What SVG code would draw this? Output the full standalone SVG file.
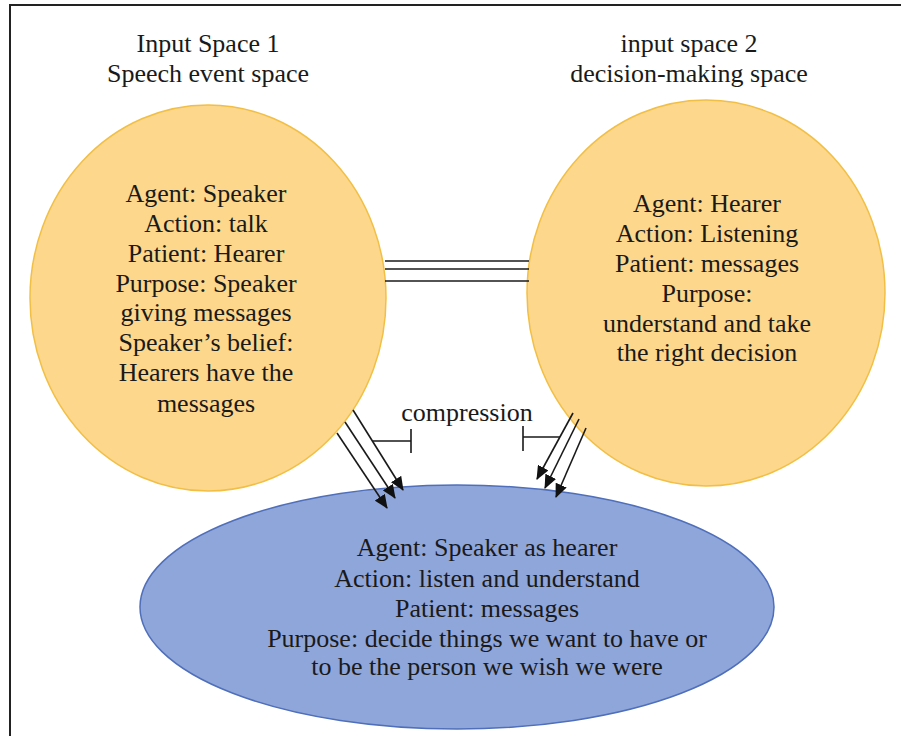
<svg xmlns="http://www.w3.org/2000/svg" width="901" height="736" viewBox="0 0 901 736">
  <defs>
    <style>
      text { font-size: 26px; fill: #1a1a1a; text-anchor: middle; }
      .space { fill: #FCD78C; stroke: #F2BF45; stroke-width: 1.5; }
      .blend { fill: #8FA6DA; stroke: #4F6FBA; stroke-width: 1.5; }
      .link { stroke: #1a1a1a; stroke-width: 1.6; fill: none; }
      .arrow { stroke: #1a1a1a; stroke-width: 1.6; fill: none; marker-end: url(#head); }
    </style>
    <marker id="head" viewBox="0 0 14 12" refX="13" refY="6" markerWidth="14" markerHeight="12" markerUnits="userSpaceOnUse" orient="auto">
      <path d="M0,0 L14,6 L0,12 z" fill="#111"/>
    </marker>
  </defs>

  <rect width="901" height="736" fill="#ffffff"/>

  <!-- frame: left and top edges -->
  <path d="M10,736 L10,5 L901,5" fill="none" stroke="#222" stroke-width="2"/>

  <g font-family="Liberation Serif, DejaVu Serif, serif">
    <!-- headings -->
    <g id="heading-1">
      <text x="208" y="52">Input Space 1</text>
      <text x="208" y="82">Speech event space</text>
    </g>
    <g id="heading-2">
      <text x="689" y="52">input space 2</text>
      <text x="689" y="82">decision-making space</text>
    </g>

    <!-- input space 1 -->
    <g id="input-space-1">
      <ellipse class="space" cx="208" cy="298" rx="178" ry="193"/>
      <text x="206" y="202">Agent: Speaker</text>
      <text x="206" y="232">Action: talk</text>
      <text x="206" y="262">Patient: Hearer</text>
      <text x="206" y="292">Purpose: Speaker</text>
      <text x="206" y="321">giving messages</text>
      <text x="206" y="351">Speaker’s belief:</text>
      <text x="206" y="381">Hearers have the</text>
      <text x="206" y="412">messages</text>
    </g>

    <!-- input space 2 -->
    <g id="input-space-2">
      <ellipse class="space" cx="706" cy="293" rx="179" ry="193"/>
      <text x="707" y="212">Agent: Hearer</text>
      <text x="707" y="242">Action: Listening</text>
      <text x="707" y="272">Patient: messages</text>
      <text x="707" y="302">Purpose:</text>
      <text x="707" y="332">understand and take</text>
      <text x="707" y="361">the right decision</text>
    </g>

    <!-- blended space -->
    <g id="blended-space">
      <ellipse class="blend" cx="457" cy="607" rx="317" ry="122"/>
      <text x="487" y="556">Agent: Speaker as hearer</text>
      <text x="487" y="587">Action: listen and understand</text>
      <text x="487" y="617">Patient: messages</text>
      <text x="487" y="647">Purpose: decide things we want to have or</text>
      <text x="487" y="675">to be the person we wish we were</text>
    </g>

    <!-- compression label -->
    <g id="compression">
      <text x="467" y="421">compression</text>
    </g>
  </g>

  <!-- connectors -->
  <g id="connectors">
    <!-- cross-space mapping -->
    <line class="link" x1="385" y1="261" x2="529" y2="261"/>
    <line class="link" x1="385" y1="269" x2="529" y2="269"/>
    <line class="link" x1="385" y1="281" x2="529" y2="281"/>

    <!-- projections from input space 1 -->
    <line class="arrow" x1="353" y1="410" x2="403" y2="490"/>
    <line class="arrow" x1="345" y1="422" x2="395" y2="498"/>
    <line class="arrow" x1="337" y1="433" x2="387" y2="508"/>

    <!-- projections from input space 2 -->
    <line class="arrow" x1="573" y1="413" x2="537" y2="479"/>
    <line class="arrow" x1="579" y1="419" x2="545" y2="488"/>
    <line class="arrow" x1="586" y1="428" x2="556" y2="497"/>

    <!-- compression markers -->
    <path class="link" d="M373,441 L411,441 M411,429 L411,453"/>
    <path class="link" d="M560,437 L523,437 M523,426 L523,451"/>
  </g>
</svg>
